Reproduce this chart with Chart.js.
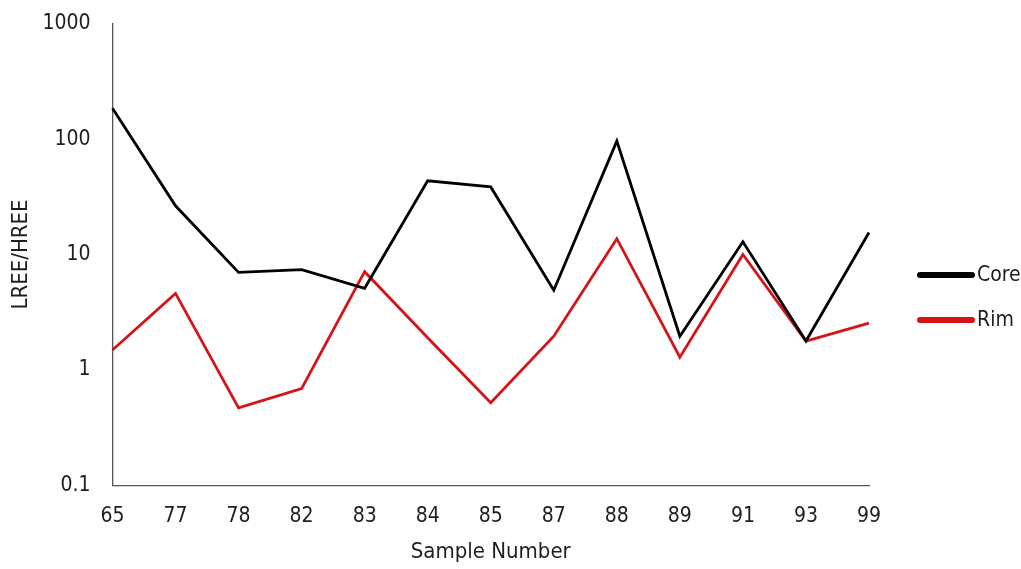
<!DOCTYPE html>
<html>
<head>
<meta charset="utf-8">
<script src="https://cdn.jsdelivr.net/npm/chart.js@4/dist/chart.umd.min.js"></script>
<style>
  html, body { margin: 0; padding: 0; background: #ffffff; }
  #wrap { width: 1021px; height: 569px; }
</style>
</head>
<body>
<div id="wrap"><canvas id="c" width="1021" height="569"></canvas></div>
<script>
// Sample numbers along the x axis
const samples = ['65', '77', '78', '82', '83', '84', '85', '87', '88', '89', '91', '93', '99'];
// LREE/HREE ratio of the grain cores
const coreValues = [185, 26.4, 7.0, 7.4, 5.1, 43.5, 38.5, 4.9, 96, 1.96, 12.9, 1.78, 15.5];
// LREE/HREE ratio of the grain rims
const rimValues = [1.49, 4.6, 0.47, 0.69, 7.1, 1.9, 0.52, 1.96, 13.7, 1.29, 10, 1.78, 2.54];
// Decade labels shown on the logarithmic axis
const yTickValues = [0.1, 1, 10, 100, 1000];

const FONT = '"DejaVu Sans Condensed", "Liberation Sans", sans-serif';
const TEXT = '#1e1e1e';
const AXIS = '#555555';

// Legend drawn to the right of the plot: a thick rounded stroke per series, then its name
const sideLegend = {
  id: 'sideLegend',
  afterDraw(chart) {
    const { ctx, chartArea } = chart;
    const x0 = chartArea.right + 51;
    const lineLen = 52;
    const gap = 45;
    const n = chart.data.datasets.length;
    const midY = (chartArea.top + chartArea.bottom) / 2 + 43;
    const startY = midY - gap * (n - 1) / 2;
    ctx.save();
    chart.data.datasets.forEach((ds, i) => {
      const y = startY + i * gap;
      ctx.beginPath();
      ctx.lineCap = 'round';
      ctx.lineWidth = 6;
      ctx.strokeStyle = ds.borderColor;
      ctx.moveTo(x0, y);
      ctx.lineTo(x0 + lineLen, y);
      ctx.stroke();
      ctx.fillStyle = TEXT;
      ctx.font = '21px ' + FONT;
      ctx.textBaseline = 'middle';
      ctx.textAlign = 'left';
      ctx.fillText(ds.label, x0 + lineLen + 5, y + 1);
    });
    ctx.restore();
  }
};

// Axes keep only their baseline; tick marks are invisible spacers before the labels
const hiddenTicks = (len) => ({
  display: true,
  drawOnChartArea: false,
  drawTicks: true,
  tickLength: len,
  tickColor: 'rgba(0,0,0,0)',
  color: 'rgba(0,0,0,0)'
});

new Chart(document.getElementById('c'), {
  type: 'line',
  data: {
    labels: samples,
    datasets: [
      {
        label: 'Core',
        data: coreValues,
        borderColor: '#000000',
        backgroundColor: '#000000',
        borderWidth: 2.8,
        pointRadius: 0,
        tension: 0,
        fill: false
      },
      {
        label: 'Rim',
        data: rimValues,
        borderColor: '#d51418',
        backgroundColor: '#d51418',
        borderWidth: 2.8,
        pointRadius: 0,
        tension: 0,
        fill: false
      }
    ]
  },
  options: {
    responsive: false,
    animation: false,
    devicePixelRatio: 1,
    layout: { padding: { top: 0, right: 152, bottom: 0, left: 3 } },
    plugins: {
      tooltip: { enabled: false },
      legend: { display: false }
    },
    scales: {
      x: {
        type: 'category',
        offset: false,
        grid: hiddenTicks(15),
        border: { display: true, color: AXIS, width: 1.3 },
        ticks: {
          color: TEXT,
          padding: 4,
          maxRotation: 0,
          autoSkip: false,
          font: { family: FONT, size: 21 }
        },
        title: {
          display: true,
          text: 'Sample Number',
          color: TEXT,
          padding: { top: 5, bottom: 4 },
          font: { family: FONT, size: 22 }
        }
      },
      y: {
        type: 'logarithmic',
        min: 0.1,
        max: 1000,
        grid: hiddenTicks(11),
        border: { display: true, color: AXIS, width: 1.3 },
        afterBuildTicks: (scale) => {
          scale.ticks = yTickValues.map(v => ({ value: v }));
        },
        afterFit: (scale) => {
          scale.width -= 3;
        },
        ticks: {
          color: TEXT,
          padding: 11,
          font: { family: FONT, size: 21 },
          callback: (v) => String(v)
        },
        title: {
          display: true,
          text: 'LREE/HREE',
          color: TEXT,
          padding: { top: 5, bottom: 0 },
          font: { family: FONT, size: 22 }
        }
      }
    }
  },
  plugins: [sideLegend]
});
</script>
</body>
</html>
